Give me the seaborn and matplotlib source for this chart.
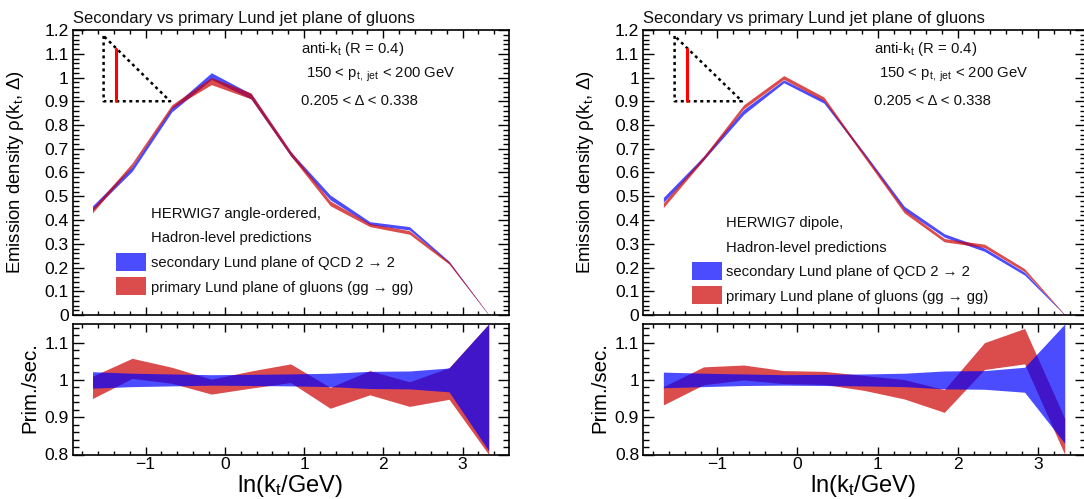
#!/usr/bin/env python3

import matplotlib
matplotlib.use('Agg')
import matplotlib.pyplot as plt
from matplotlib.patches import Rectangle
from matplotlib.ticker import FuncFormatter, MultipleLocator
import pandas as pd
import seaborn as sns

W, H = 1084, 499

kt_bins = [-1.67, -1.17, -0.67, -0.17, 0.33, 0.83, 1.33, 1.83, 2.33, 2.83, 3.33]

# angle-ordered panel
ao_sec_hi = [0.460, 0.625, 0.875, 1.020, 0.932, 0.688, 0.505, 0.393, 0.372, 0.226, 0.002]
ao_sec_lo = [0.440, 0.605, 0.855, 0.992, 0.910, 0.670, 0.485, 0.380, 0.358, 0.218, 0.000]
ao_pri_hi = [0.450, 0.640, 0.885, 1.000, 0.935, 0.690, 0.480, 0.385, 0.355, 0.224, 0.002]
ao_pri_lo = [0.430, 0.625, 0.870, 0.970, 0.910, 0.670, 0.460, 0.372, 0.340, 0.214, 0.000]
ao_ratio_sec_hi = [1.022, 1.018, 1.016, 1.014, 1.015, 1.016, 1.018, 1.023, 1.024, 1.032, 1.150]
ao_ratio_sec_lo = [0.978, 0.982, 0.984, 0.986, 0.985, 0.984, 0.982, 0.977, 0.976, 0.968, 0.810]
ao_ratio_pri_hi = [1.010, 1.058, 1.034, 1.002, 1.024, 1.043, 0.980, 1.025, 0.995, 1.033, 1.150]
ao_ratio_pri_lo = [0.950, 1.004, 0.991, 0.962, 0.978, 0.993, 0.924, 0.960, 0.929, 0.948, 0.800]

# dipole panel
di_sec_hi = [0.495, 0.668, 0.865, 0.990, 0.905, 0.685, 0.458, 0.342, 0.282, 0.180, 0.002]
di_sec_lo = [0.475, 0.652, 0.845, 0.978, 0.892, 0.672, 0.442, 0.328, 0.268, 0.168, 0.000]
di_pri_hi = [0.472, 0.668, 0.885, 1.008, 0.918, 0.680, 0.445, 0.322, 0.298, 0.195, 0.002]
di_pri_lo = [0.452, 0.652, 0.868, 0.992, 0.902, 0.665, 0.430, 0.308, 0.284, 0.182, 0.000]
di_ratio_sec_hi = [1.021, 1.018, 1.016, 1.014, 1.015, 1.016, 1.018, 1.024, 1.025, 1.034, 1.150]
di_ratio_sec_lo = [0.979, 0.982, 0.985, 0.986, 0.985, 0.984, 0.982, 0.976, 0.975, 0.967, 0.830]
di_ratio_pri_hi = [0.982, 1.035, 1.040, 1.025, 1.023, 1.012, 1.001, 0.974, 1.100, 1.138, 0.897]
di_ratio_pri_lo = [0.933, 0.987, 1.000, 0.990, 0.988, 0.972, 0.949, 0.913, 1.028, 1.043, 0.800]

# little triangle sketch in the corner
sketch_x = [-1.53, -1.53, -0.69, -1.53]
sketch_y = [1.175, 0.9, 0.9, 1.175]
sketch_red_x = [-1.375, -1.375]
sketch_red_y = [0.9, 1.12]

title = 'Secondary vs primary Lund jet plane of gluons'
label_sec = 'secondary Lund plane of QCD 2 \u2192 2'
label_pri = 'primary Lund plane of gluons (gg \u2192 gg)'
label_jet = r'anti-k$_{\mathrm{t}}$ (R = 0.4)'
label_pt = r'150 < p$_{\mathrm{t,\ jet}}$ < 200 GeV'
label_delta = '0.205 < \u0394 < 0.338'

BLUE = '#0000ff'
RED = '#cc0000'
ALPHA = 0.7

sns.set_style('ticks')
plt.rcParams['font.family'] = ['Liberation Sans', 'DejaVu Sans']
plt.rcParams['mathtext.fontset'] = 'custom'
plt.rcParams['mathtext.rm'] = 'Liberation Sans'
plt.rcParams['mathtext.it'] = 'Liberation Sans'
plt.rcParams['mathtext.default'] = 'regular'
plt.rcParams['text.color'] = 'black'
plt.rcParams['axes.labelcolor'] = 'black'
plt.rcParams['xtick.color'] = 'black'
plt.rcParams['ytick.color'] = 'black'


def band_frame(lo, hi):
    return pd.DataFrame({'x': kt_bins * 2, 'y': list(lo) + list(hi)})


def draw_band(ax, lo, hi, color):
    sns.lineplot(data=band_frame(lo, hi), x='x', y='y', ax=ax, color=color, linewidth=0,
                 errorbar=('pi', 100), err_kws={'alpha': ALPHA, 'linewidth': 0}, legend=False)


def style_axes(ax):
    ax.set_xlim(-1.92, 3.59)
    ax.xaxis.set_major_locator(MultipleLocator(1))
    ax.xaxis.set_minor_locator(MultipleLocator(0.2))
    ax.yaxis.set_major_formatter(FuncFormatter(lambda v, p: f'{v:g}'))
    ax.xaxis.set_major_formatter(FuncFormatter(lambda v, p: f'{v:g}'.replace('-', '\u2212')))
    ax.tick_params(which='both', direction='in', top=True, right=True, width=1.0, colors='black')
    ax.tick_params(which='major', axis='x', length=6)
    ax.tick_params(which='minor', axis='x', length=3)
    ax.tick_params(which='major', axis='y', length=8, labelsize=12.6, pad=3)
    ax.tick_params(which='minor', axis='y', length=4)
    ax.tick_params(axis='x', labelsize=12.6, pad=2)
    for s in ax.spines.values():
        s.set_visible(True)
        s.set_linewidth(1.2)
        s.set_color('black')


def px_text(fig, x, y, s, size=10.7):
    fig.text(x / W, 1 - y / H, s, fontsize=size, va='baseline', ha='left', color='#111111')


def px_patch(fig, x0, x1, y0, y1, color):
    fig.add_artist(Rectangle((x0 / W, 1 - y1 / H), (x1 - x0) / W, (y1 - y0) / H, facecolor=color,
                             edgecolor='none', alpha=ALPHA, transform=fig.transFigure))


def draw_panel(fig, left, right, upper, ratio, texts, patches, label_x):
    sec_lo, sec_hi, pri_lo, pri_hi = upper
    r_sec_lo, r_sec_hi, r_pri_lo, r_pri_hi = ratio
    width = right - left

    ax = fig.add_axes([left / W, 1 - 315 / H, width / W, 285 / H])
    draw_band(ax, sec_lo, sec_hi, BLUE)
    draw_band(ax, pri_lo, pri_hi, RED)
    ax.plot(sketch_x, sketch_y, color='black', linewidth=1.8, linestyle=(0, (1.2, 1.4)))
    ax.plot(sketch_red_x, sketch_red_y, color='#ff0000', linewidth=2.2)
    style_axes(ax)
    ax.set_ylim(0, 1.2)
    ax.yaxis.set_major_locator(MultipleLocator(0.1))
    ax.yaxis.set_minor_locator(MultipleLocator(0.02))
    ax.tick_params(labelbottom=False)
    ax.set_xlabel('')
    ax.set_ylabel(r'Emission density $\rho$(k$_{\mathrm{t}}$, $\Delta$)', fontsize=13.3)
    ax.yaxis.set_label_coords((label_x[0] - left) / width, 0.5)
    ax.set_title(title, loc='left', fontsize=11.85, pad=5, color='#111111')

    rx = fig.add_axes([left / W, 1 - 454.5 / H, width / W, 130.5 / H])
    draw_band(rx, r_pri_lo, r_pri_hi, RED)
    draw_band(rx, r_sec_lo, r_sec_hi, BLUE)
    style_axes(rx)
    rx.set_ylim(0.8, 1.15)
    rx.yaxis.set_major_locator(MultipleLocator(0.1))
    rx.yaxis.set_minor_locator(MultipleLocator(0.02))
    rx.set_ylabel('Prim./sec.', fontsize=14.8)
    rx.yaxis.set_label_coords((label_x[1] - left) / width, 0.51)
    rx.set_xlabel(r'ln(k$_{\mathrm{t}}$/GeV)', fontsize=17)
    rx.xaxis.set_label_coords((label_x[2] - left) / width, -0.14)

    for x, y, s in texts:
        px_text(fig, x, y, s)
    for (x0, x1, y0, y1), color in zip(patches, [BLUE, RED]):
        px_patch(fig, x0, x1, y0, y1, color)


fig = plt.figure(figsize=(W / 100, H / 100), dpi=100)

draw_panel(fig, 72.7, 509.3,
           (ao_sec_lo, ao_sec_hi, ao_pri_lo, ao_pri_hi),
           (ao_ratio_sec_lo, ao_ratio_sec_hi, ao_ratio_pri_lo, ao_ratio_pri_hi),
           [(300.7, 53, label_jet), (305.7, 78, label_pt), (300.7, 105, label_delta),
            (151, 217.7, 'HERWIG7 angle-ordered,'), (151, 241.7, 'Hadron-level predictions'),
            (151, 266.7, label_sec), (151, 292.3, label_pri)],
           [(116.3, 146, 253, 270.7), (116.3, 146, 277, 295)],
           (26, 39, 290))

draw_panel(fig, 643.3, 1085.6,
           (di_sec_lo, di_sec_hi, di_pri_lo, di_pri_hi),
           (di_ratio_sec_lo, di_ratio_sec_hi, di_ratio_pri_lo, di_ratio_pri_hi),
           [(874, 53, label_jet), (879, 78, label_pt), (874, 105, label_delta),
            (726.5, 226.7, 'HERWIG7 dipole,'), (726.5, 251.7, 'Hadron-level predictions'),
            (726.5, 276, label_sec), (726.5, 301, label_pri)],
           [(691.7, 721.7, 262, 280), (691.7, 721.7, 286, 304)],
           (596, 609, 863))

fig.savefig('out.png', dpi=100)
